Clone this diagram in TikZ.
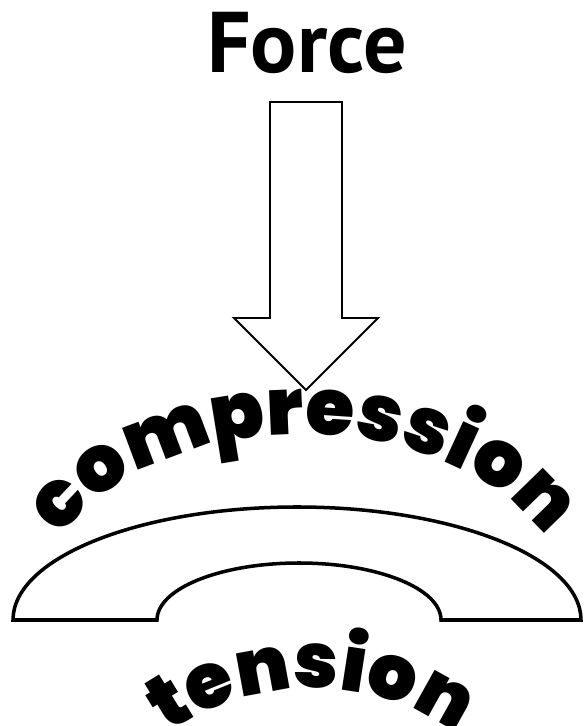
\documentclass[tikz,border=0pt]{standalone}
\usepackage{fontspec}
\usetikzlibrary{decorations.text}
\newfontfamily\titlefont{PT Sans}
\newfontfamily\heavyfont{Poppins Black}[LetterSpace=-3]

\begin{document}
\begin{tikzpicture}[x=0.02cm, y=0.02cm]

  \useasboundingbox (0,0) rectangle (583,726);

  % -------------------------------------------------------
  % Title and force arrow
  % -------------------------------------------------------
  \node[anchor=base, inner sep=0pt, font=\titlefont\bfseries\fontsize{49}{50}\selectfont]
    (force) at (307,653) {Force};

  % Hollow block arrow pointing down
  \draw[black, line width=1.1pt, line join=miter, fill=white]
    (270,624) -- (342,624) -- (342,408) -- (378,408) -- (306,336)
    -- (234,408) -- (270,408) -- cycle;

  % -------------------------------------------------------
  % Bent beam
  % -------------------------------------------------------
  \draw[black, line width=2pt, line join=miter, fill=white]
    (13,106) arc[start angle=180, end angle=0, x radius=284, y radius=113]
    -- (441,106) arc[start angle=0, end angle=180, x radius=142, y radius=57]
    -- cycle;

  % -------------------------------------------------------
  % Curved labels
  % -------------------------------------------------------
  % Compression: above the beam, follows the outer curve
  \path[shift={(303,106)}, decorate, decoration={text along path, text align=center,
      text={|\heavyfont\fontsize{45}{45}\selectfont|compression}}]
    (170:270 and 186) arc[start angle=170, end angle=10, x radius=270, y radius=186];

  % Tension: below the beam
  \path[shift={(312,-212)}, decorate, decoration={text along path, text align=center,
      text={|\heavyfont\fontsize{44}{44}\selectfont|tension}}]
    (130:250) arc[start angle=130, end angle=50, radius=250];

\end{tikzpicture}
\end{document}
